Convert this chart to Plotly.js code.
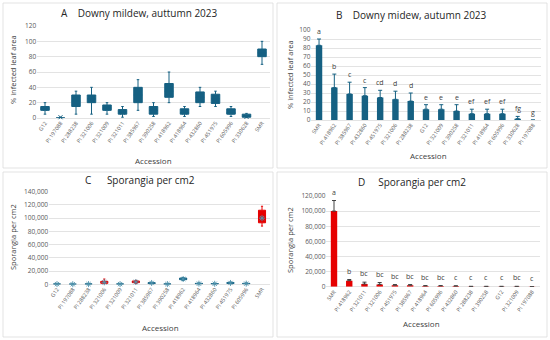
<!DOCTYPE html>
<html><head><meta charset="utf-8">
<script src="https://cdn.plot.ly/plotly-3.0.1.min.js"></script>
<style>html,body{margin:0;padding:0;background:#fff}#c{width:550px;height:340px}</style>
</head><body><div id="c"></div>
<script>
// ---- Panel A: box plot, % infected leaf area ----
const accA = ['G12','PI 197088','PI 288238','PI 321006','PI 321009','PI 321011','PI 385967','PI 390258','PI 418962','PI 418964','PI 432860','PI 451975','PI 605996','PI 330628','SMR'];
const q1A  = [10, 0, 15, 20, 10, 5, 20, 5, 27, 5, 20, 19, 5, 1, 80];
const medA = [12, 0, 22, 25, 13, 8, 30, 10, 35, 7, 27, 25, 7, 2, 85];
const q3A  = [15, 0, 30, 30, 17, 11, 40, 15, 45, 12, 34, 31, 12, 5, 90];
const loA  = [5, 0, 5, 5, 5, 1, 10, 2, 20, 2, 15, 15, 2, 0, 70];
const hiA  = [20, 1, 35, 40, 20, 15, 50, 20, 60, 15, 40, 35, 15, 6, 100];
const meanA= [12, 1, 21, 23, 12, 7, 29, 10, 36, 7, 27, 25, 7, 1.5, 83];

// ---- Panel B: bar chart, mean % infected leaf area ----
const accB = ['SMR','PI 418962','PI 385967','PI 432860','PI 451975','PI 321006','PI 288238','G12','PI 321009','PI 390258','PI 321011','PI 418964','PI 605996','PI 330628','PI 197088'];
const meanB = [83, 36, 29, 27, 25, 23, 21, 12, 12, 10, 7, 7, 7, 1.5, 0];
const errB  = [7, 15, 13, 9, 8, 9, 9, 5, 5, 7, 5, 5, 5, 2.5, 0];
const letB  = ['a','b','c','c','cd','d','d','e','e','e','ef','ef','ef','fg','g'];

// ---- Panel C: box plot, sporangia per cm2 ----
const accC = ['G12','PI 197088','PI 288238','PI 321006','PI 321009','PI 321011','PI 385967','PI 390258','PI 418962','PI 418964','PI 432860','PI 451975','PI 605996','SMR'];
const q1C  = [100, 0, 100, 1500, 100, 2500, 1000, 100, 7000, 500, 300, 1200, 500, 93000];
const medC = [200, 50, 200, 3000, 200, 3500, 2000, 200, 8000, 900, 700, 2000, 900, 100000];
const q3C  = [500, 150, 500, 4500, 500, 5000, 2500, 500, 9500, 1500, 1200, 2800, 1500, 112000];
const loC  = [0, 0, 0, 500, 0, 1000, 500, 0, 6000, 0, 0, 800, 0, 88000];
const hiC  = [1000, 300, 800, 8000, 800, 6000, 3000, 800, 10000, 2000, 1500, 3500, 2000, 118000];
const meanC= [300, 100, 300, 3000, 300, 3500, 2000, 300, 8000, 1000, 800, 2000, 1000, 100000];
const redC = ['PI 321006','PI 321011','SMR'];

// ---- Panel D: bar chart, sporangia per cm2 ----
const accD = ['SMR','PI 418962','PI 321011','PI 321006','PI 451975','PI 385967','PI 418964','PI 605996','PI 432860','PI 288238','PI 390258','G12','PI 321009','PI 197088'];
const meanD = [100000, 8000, 3500, 3000, 2000, 2000, 1000, 1000, 800, 300, 300, 300, 300, 100];
const errD  = [14000, 1500, 2500, 2500, 800, 800, 500, 500, 400, 200, 200, 200, 200, 100];
const letD  = ['a','b','bc','bc','bc','bc','bc','bc','c','c','c','c','bc','c'];

const TEAL = '#156082', RED = '#E60000', STAR = '#4f93ad';
const W = 550, H = 340;
const px = x => x / W, py = y => 1 - y / H;
const FONT = 'Open Sans, Noto Sans, sans-serif';

function pick(arr, idx){ return idx.map(i => arr[i]); }

const traces = [];
// A
traces.push({type:'box', x:accA, q1:q1A, median:medA, q3:q3A, lowerfence:loA, upperfence:hiA,
  xaxis:'x', yaxis:'y', fillcolor:TEAL, line:{color:TEAL, width:1}, width:0.55, whiskerwidth:0.3,
  boxpoints:false, hoverinfo:'skip'});
traces.push({type:'scatter', mode:'markers', x:accA, y:meanA, xaxis:'x', yaxis:'y', cliponaxis:false,
  marker:{symbol:'x-thin-open', size:4, color:TEAL, line:{color:TEAL, width:1}}, hoverinfo:'skip'});
// B
traces.push({type:'bar', x:accB, y:meanB, xaxis:'x2', yaxis:'y2', marker:{color:TEAL},
  error_y:{type:'data', array:errB, arrayminus:errB.map(()=>0), symmetric:false, color:TEAL, thickness:1, width:2},
  hoverinfo:'skip'});
// C
const idxT = [], idxR = [];
accC.forEach((a,i)=> (redC.includes(a) ? idxR : idxT).push(i));
[[idxT, TEAL],[idxR, RED]].forEach(([idx,col])=>{
  traces.push({type:'box', x:pick(accC,idx), q1:pick(q1C,idx), median:pick(medC,idx), q3:pick(q3C,idx),
    lowerfence:pick(loC,idx), upperfence:pick(hiC,idx), xaxis:'x3', yaxis:'y3',
    fillcolor:col, line:{color:col, width:1}, width:0.45, whiskerwidth:0.3, boxpoints:false, hoverinfo:'skip'});
});
traces.push({type:'scatter', mode:'markers', x:accC, y:meanC, xaxis:'x3', yaxis:'y3', cliponaxis:false,
  marker:{symbol:'asterisk-open', size:5, color:STAR, line:{color:STAR, width:0.9}}, hoverinfo:'skip'});
// D
traces.push({type:'bar', x:accD, y:meanD, xaxis:'x4', yaxis:'y4', marker:{color:RED},
  error_y:{type:'data', array:errD, arrayminus:errD.map(()=>0), symmetric:false, color:'#404040', thickness:1, width:2},
  hoverinfo:'skip'});

const tickF = {family:FONT, size:6.5, color:'#595959'};
const xtickF = {family:FONT, size:5.4, color:'#595959'};
function xax(dom, anchor, cats){
  return {domain:dom, anchor:anchor, type:'category', categoryorder:'array', categoryarray:cats,
    range:[-0.5, cats.length-0.5], tickangle:-55, tickfont:xtickF, showgrid:false, zeroline:false,
    showline:false, ticks:'', fixedrange:true};
}
function yax(dom, anchor, range, dtick, fmt){
  return {domain:dom, anchor:anchor, range:range, dtick:dtick, tickformat:fmt, tickfont:tickF,
    gridcolor:'#d9d9d9', gridwidth:0.75, zeroline:true, zerolinecolor:'#d9d9d9', zerolinewidth:0.75,
    showline:false, ticks:'', fixedrange:true};
}

const ann = [];
function txt(x, y, t, size, extra){ ann.push(Object.assign({xref:'paper', yref:'paper', x:px(x), y:py(y), text:t,
  showarrow:false, font:{family:FONT, size:size, color:'#404040'}, xanchor:'center', yanchor:'middle'}, extra||{})); }
// panel titles
const TF = {family:FONT, size:10, color:'#262626'};
txt(140, 13, 'A&nbsp;&nbsp;&nbsp;&nbsp;Downy mildew, auttumn 2023', 10, {font:TF});
txt(411, 15, 'B&nbsp;&nbsp;&nbsp;&nbsp;Downy midew, autumn 2023', 10, {font:TF});
txt(140, 180, 'C&nbsp;&nbsp;&nbsp;&nbsp;&nbsp;&nbsp;Sporangia per cm2', 10, {font:TF});
txt(412, 182, 'D&nbsp;&nbsp;&nbsp;&nbsp;&nbsp;Sporangia per cm2', 10, {font:TF});
// axis titles
txt(153, 160, 'Accession', 8);
txt(428, 156, 'Accession', 8);
txt(160, 327, 'Accession', 8);
txt(422, 323, 'Accession', 8);
txt(13, 70, '% infected leaf area', 7.5, {textangle:-90});
txt(290, 75, '% infected leaf area', 7.5, {textangle:-90});
txt(13, 237, 'Sporangia per cm2', 7.5, {textangle:-90});
txt(290, 240, 'Sporangia per cm2', 7.5, {textangle:-90});
// significance letters
accB.forEach((a,i)=> ann.push({xref:'x2', yref:'y2', x:a, y:meanB[i]+errB[i], text:letB[i], showarrow:false,
  yanchor:'bottom', yshift:1, font:{family:FONT, size:7, color:'#404040'}}));
accD.forEach((a,i)=> ann.push({xref:'x4', yref:'y4', x:a, y:meanD[i]+errD[i], text:letD[i], showarrow:false,
  yanchor:'bottom', yshift:2, font:{family:FONT, size:7, color:'#404040'}}));

const shapes = [[3,3,273,168],[277,3,547,168],[3,172,273,337],[277,172,547,337]].map(b=>({
  type:'rect', xref:'paper', yref:'paper', x0:px(b[0]), x1:px(b[2]), y0:py(b[3]), y1:py(b[1]),
  line:{color:'#d9d9d9', width:0.75}, fillcolor:'rgba(0,0,0,0)', layer:'below'}));

const layout = {
  width:W, height:H, margin:{l:0,r:0,t:0,b:0}, paper_bgcolor:'#fff', plot_bgcolor:'rgba(0,0,0,0)',
  showlegend:false, boxmode:'overlay', bargap:0.58, hovermode:false,
  xaxis: xax([px(37.25), px(269.75)], 'y', accA),
  yaxis: yax([py(118), py(26)], 'x', [0,120], 20, ''),
  xaxis2: xax([px(311.4), px(540.6)], 'y2', accB),
  yaxis2: yax([py(120), py(30)], 'x2', [0,100], 10, ''),
  xaxis3: xax([px(49.1), px(269.9)], 'y3', accC),
  yaxis3: yax([py(284.3), py(191.7)], 'x3', [0,140000], 20000, ',d'),
  xaxis4: xax([px(326.4), px(539.6)], 'y4', accD),
  yaxis4: yax([py(286.7), py(196)], 'x4', [0,120000], 20000, ',d'),
  annotations: ann, shapes: shapes, font:{family:FONT}
};
Plotly.newPlot('c', traces, layout, {staticPlot:true, displayModeBar:false});
</script></body></html>
